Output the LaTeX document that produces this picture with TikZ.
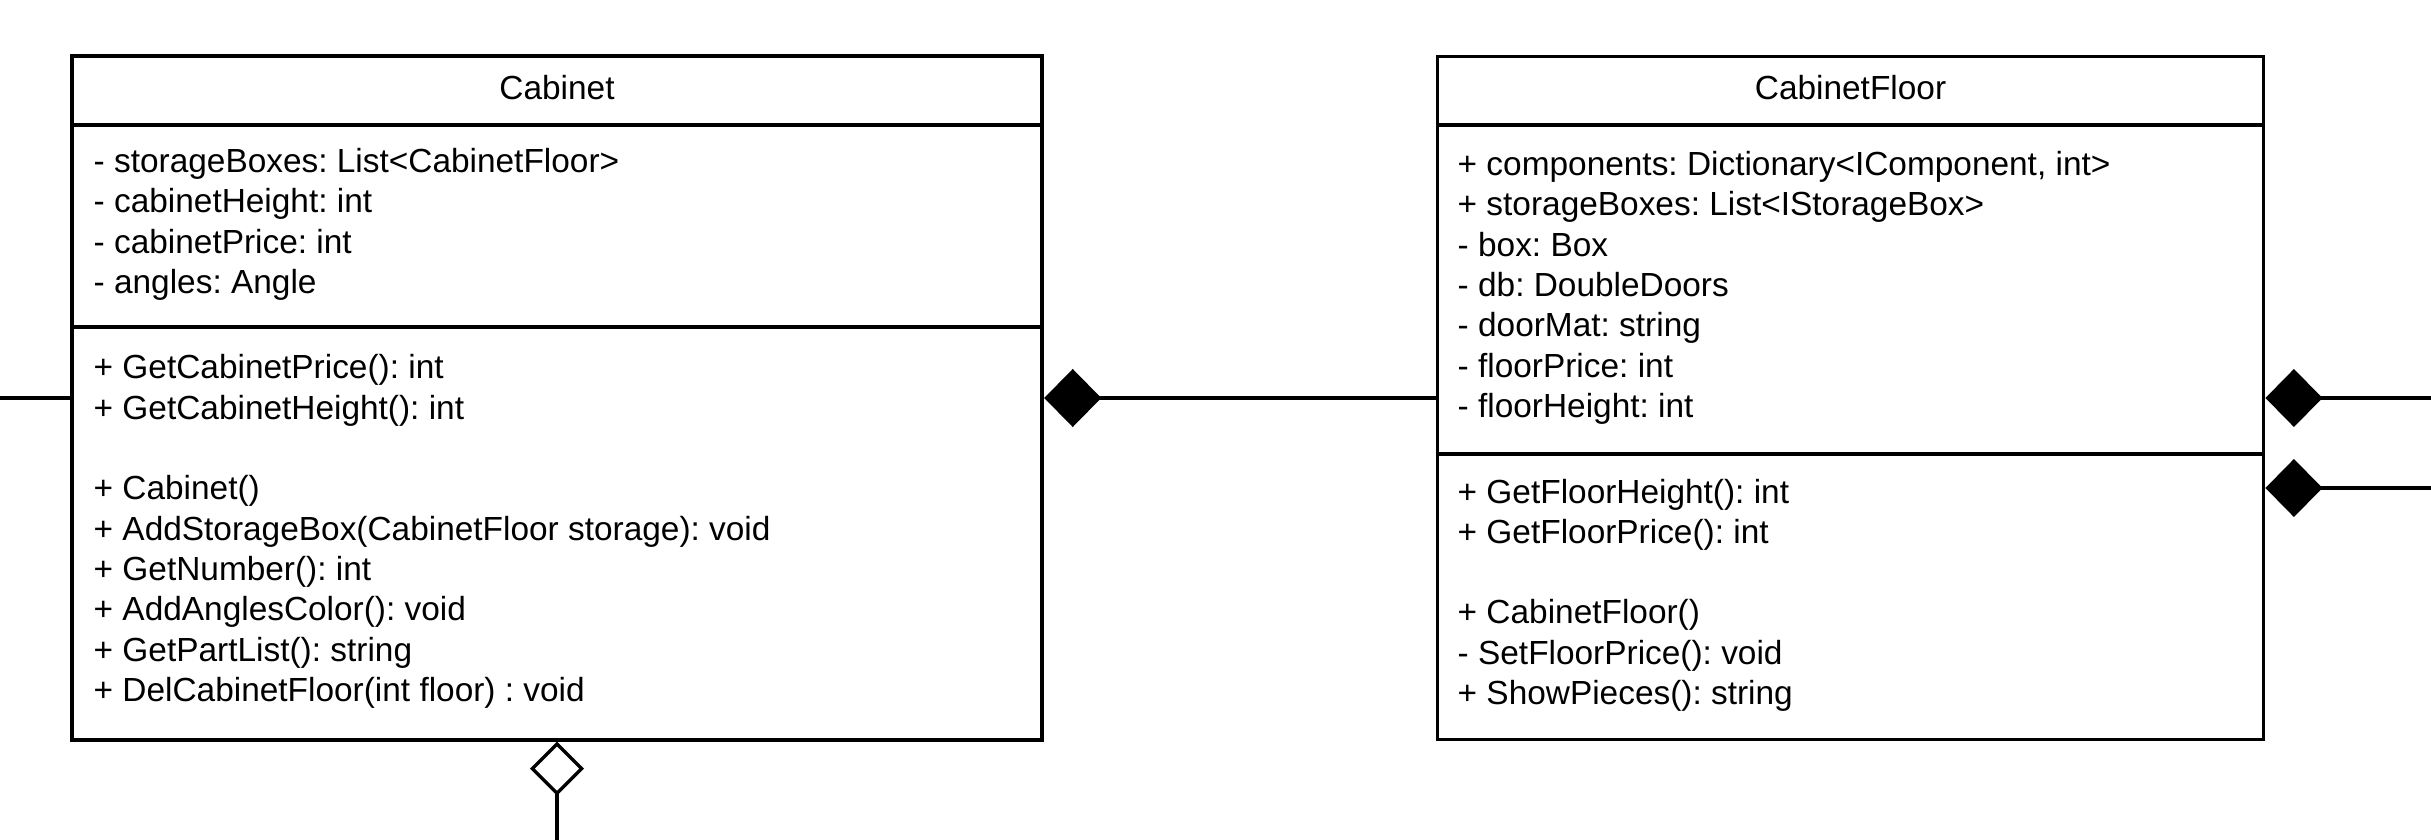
\documentclass[tikz,border=0pt]{standalone}
\usepackage{fontspec}
\setmainfont{Liberation Sans}
\frenchspacing
\usetikzlibrary{arrows.meta}

\tikzset{
  umlbox/.style={draw, line width=1pt, inner sep=0pt, minimum height=6.83cm},
  divider/.style={line width=1pt},
  title/.style={anchor=base, inner sep=0pt, font=\fontsize{9.5}{11.47}\selectfont},
  member/.style={anchor=base west, inner sep=0pt, font=\fontsize{9.5}{11.47}\selectfont},
  link/.style={line width=0.95pt},
  compose/.style={link, arrows={Diamond[length=5.7mm, width=5.8mm]-}},
  aggregate/.style={link, arrows={Diamond[open, fill=white, length=5.4mm, width=5.4mm]-}}
}

\begin{document}
\begin{tikzpicture}[x=0.01cm, y=-0.01cm]

  \useasboundingbox (0,0) rectangle (2431,840);

  % class boxes
  \node[umlbox, minimum width=9.70cm, line width=1.1pt] (cab) at (557,398) {};
  \node[umlbox, minimum width=8.26cm, line width=0.95pt] (floor) at (1850.5,398) {};

  \draw[divider, line width=1.1pt] (cab.west |- 0,125) -- (cab.east |- 0,125);
  \draw[divider, line width=1.1pt] (cab.west |- 0,327) -- (cab.east |- 0,327);
  \draw[divider, line width=0.95pt] (floor.west |- 0,125) -- (floor.east |- 0,125);
  \draw[divider, line width=0.95pt] (floor.west |- 0,454) -- (floor.east |- 0,454);

  \node[title] (cabtitle) at (557,100) {Cabinet};
  \node[title] (floortitle) at (1850.5,100) {CabinetFloor};

  % Cabinet members
  \foreach \txt [count=\i from 0] in {
      - storageBoxes: List<CabinetFloor>,
      - cabinetHeight: int,
      - cabinetPrice: int,
      - angles: Angle}
    \node[member] (cabattr\i) at (93,{172.5+40.33*\i}) {\txt};

  \foreach \row/\txt in {
      0/+ GetCabinetPrice(): int,
      1/+ GetCabinetHeight(): int,
      3/+ Cabinet(),
      4/+ AddStorageBox(CabinetFloor storage): void,
      5/+ GetNumber(): int,
      6/+ AddAnglesColor(): void,
      7/+ GetPartList(): string,
      8/+ DelCabinetFloor(int floor) : void}
    \node[member] (cabop\row) at (93,{379+40.33*\row}) {\txt};

  % CabinetFloor members
  \foreach \txt [count=\i from 0] in {
      {+ components: Dictionary<IComponent, int>},
      + storageBoxes: List<IStorageBox>,
      - box: Box,
      - db: DoubleDoors,
      - doorMat: string,
      - floorPrice: int,
      - floorHeight: int}
    \node[member] (floorattr\i) at (1457,{175.5+40.33*\i}) {\txt};

  \foreach \row/\txt in {
      0/+ GetFloorHeight(): int,
      1/+ GetFloorPrice(): int,
      3/+ CabinetFloor(),
      4/- SetFloorPrice(): void,
      5/+ ShowPieces(): string}
    \node[member] (floorop\row) at (1457,{503+40.33*\row}) {\txt};

  % connectors
  \coordinate (leftend) at (0,398);
  \coordinate (rightend) at (2431,398);
  \coordinate (floorport) at (floor.east |- 0,488);
  \coordinate (rightend2) at (2431,488);
  \coordinate (bottomend) at (cab.south |- 0,840);

  \path (leftend) edge[link] (cab.west)
        (cab.east) edge[compose] (floor.west)
        (floor.east) edge[compose] (rightend)
        (floorport) edge[compose] (rightend2)
        (cab.south) edge[aggregate] (bottomend);

\end{tikzpicture}
\end{document}
